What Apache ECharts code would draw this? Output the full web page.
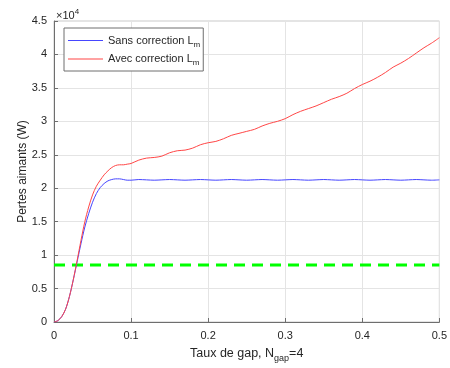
<!DOCTYPE html>
<html>
<head>
<meta charset="utf-8">
<script src="https://cdn.jsdelivr.net/npm/echarts@6/dist/echarts.min.js"></script>
<style>
html,body{margin:0;padding:0;background:#fff;}
#c{width:450px;height:368px;}
</style>
</head>
<body>
<div id="c"></div>
<script>
// Data (x = taux de gap, y = pertes aimants en W)
const xRise = [0, 0.005, 0.01, 0.015, 0.02, 0.025, 0.03, 0.035, 0.04, 0.045, 0.05, 0.055, 0.06, 0.065, 0.07, 0.075, 0.08, 0.085, 0.09, 0.095];
const xTail = [0.10, 0.11, 0.12, 0.13, 0.14, 0.15, 0.16, 0.17, 0.18, 0.19, 0.20, 0.21, 0.22, 0.23, 0.24, 0.25, 0.26, 0.27, 0.28, 0.29, 0.30, 0.31, 0.32, 0.33, 0.34, 0.35, 0.36, 0.37, 0.38, 0.39, 0.40, 0.41, 0.42, 0.43, 0.44, 0.45, 0.46, 0.47, 0.48, 0.49, 0.50];
const sansCorrection = [0, 200, 800, 1900, 3800, 6300, 9000, 11700, 14200, 16200, 17900, 19200, 20100, 20700, 21100, 21300, 21400, 21400, 21300, 21200,
  21200, 21300, 21250, 21200, 21250, 21300, 21250, 21200, 21250, 21300, 21250, 21200, 21250, 21300, 21250, 21200, 21250, 21300, 21250, 21200, 21250, 21300, 21250, 21200, 21250, 21300, 21250, 21200, 21250, 21300, 21250, 21200, 21250, 21300, 21250, 21200, 21250, 21300, 21250, 21200, 21250];
const avecCorrection = [0, 200, 800, 1900, 3800, 6300, 9200, 12200, 15000, 17200, 19000, 20300, 21200, 22000, 22600, 23100, 23400, 23500, 23500, 23600,
  23700, 24200, 24500, 24600, 24800, 25300, 25600, 25700, 26000, 26500, 26800, 27000, 27400, 27900, 28200, 28500, 28800, 29300, 29700, 30000, 30400, 31000, 31500, 31900, 32300, 32800, 33300, 33700, 34200, 34900, 35500, 36000, 36600, 37300, 38100, 38700, 39400, 40200, 41000, 41700, 42500];
const limitX = [0, 0.5];
const limitLevel = 8530;
const seriesNames = ['Sans correction L', 'Avec correction L'];
const subscript = 'm';
const xTicks = ['0', '0.1', '0.2', '0.3', '0.4', '0.5'];
const yTicks = ['0', '0.5', '1', '1.5', '2', '2.5', '3', '3.5', '4', '4.5'];

const xAll = xRise.concat(xTail);
const pairs = (ys) => xAll.map((x, i) => [x, ys[i]]);

const FONT = 'Liberation Sans, Arial, sans-serif';
const TXT = '#262626';

const chart = echarts.init(document.getElementById('c'), null, {renderer: 'canvas'});
chart.setOption({
  animation: false,
  backgroundColor: '#ffffff',
  textStyle: {fontFamily: FONT},
  title: {
    text: '{a|×10}{b|4}',
    left: 51, top: 3,
    textStyle: {
      rich: {
        a: {fontSize: 11, color: TXT, fontFamily: FONT, fontWeight: 'normal'},
        b: {fontSize: 8, color: TXT, fontFamily: FONT, fontWeight: 'normal', padding: [0, 0, 8, 0]}
      }
    }
  },
  grid: {left: 54, right: 7, top: 21, bottom: 43, show: true, borderColor: '#c8c8c8', borderWidth: 1, backgroundColor: 'transparent'},
  legend: {
    data: seriesNames,
    left: 64, top: 28,
    orient: 'vertical',
    icon: 'rect',
    itemWidth: 35, itemHeight: 1, itemGap: 5,
    padding: [7, 3, 4, 4],
    backgroundColor: '#fff',
    borderColor: '#6e6e6e', borderWidth: 1,
    formatter: (n) => '{n|' + n + '}{s|' + subscript + '}',
    textStyle: {
      rich: {
        n: {fontSize: 11, color: TXT, fontFamily: FONT},
        s: {fontSize: 8, color: TXT, fontFamily: FONT, padding: [8, 0, 0, 0]}
      }
    }
  },
  xAxis: {
    type: 'value', min: 0, max: 0.5, interval: 0.1,
    name: '{a|Taux de gap, N}{s|gap}{a|=4}',
    nameLocation: 'middle', nameGap: 23,
    nameMoveOverlap: false,
    nameTextStyle: {
      rich: {
        a: {fontSize: 12.5, color: TXT, fontFamily: FONT},
        s: {fontSize: 9, color: TXT, fontFamily: FONT, padding: [9, 0, 0, 0]}
      }
    },
    axisLine: {lineStyle: {color: '#6e6e6e', width: 1}},
    axisTick: {inside: true, length: 4, lineStyle: {color: '#6e6e6e'}},
    axisLabel: {color: TXT, fontSize: 11, margin: 8, formatter: (v) => xTicks[Math.round(v * 10)] ?? ''},
    splitLine: {show: true, lineStyle: {color: '#e4e4e4', width: 1}}
  },
  yAxis: {
    type: 'value', min: 0, max: 45000, interval: 5000,
    name: 'Pertes aimants (W)',
    nameLocation: 'middle', nameGap: 25,
    nameMoveOverlap: false,
    nameTextStyle: {fontSize: 12, color: TXT, fontFamily: FONT},
    axisLine: {show: true, lineStyle: {color: '#6e6e6e', width: 1}},
    axisTick: {show: true, inside: true, length: 4, lineStyle: {color: '#6e6e6e'}},
    axisLabel: {color: TXT, fontSize: 11, margin: 7, formatter: (v) => yTicks[Math.round(v / 5000)] ?? ''},
    splitLine: {show: true, lineStyle: {color: '#e4e4e4', width: 1}}
  },
  series: [
    {
      name: seriesNames[0], type: 'line', data: pairs(sansCorrection),
      symbol: 'none', smooth: 0.3, z: 3,
      lineStyle: {color: '#4646ff', width: 1}, itemStyle: {color: '#4646ff'}
    },
    {
      name: seriesNames[1], type: 'line', data: pairs(avecCorrection),
      symbol: 'none', smooth: 0.3, z: 4,
      lineStyle: {color: '#ff4646', width: 1}, itemStyle: {color: '#ff4646'}
    },
    {
      name: 'limite', type: 'line', data: limitX.map((x) => [x, limitLevel]),
      symbol: 'none', z: 2,
      lineStyle: {color: '#00ff00', width: 3, type: [11, 7]}
    }
  ]
});
</script>
</body>
</html>
